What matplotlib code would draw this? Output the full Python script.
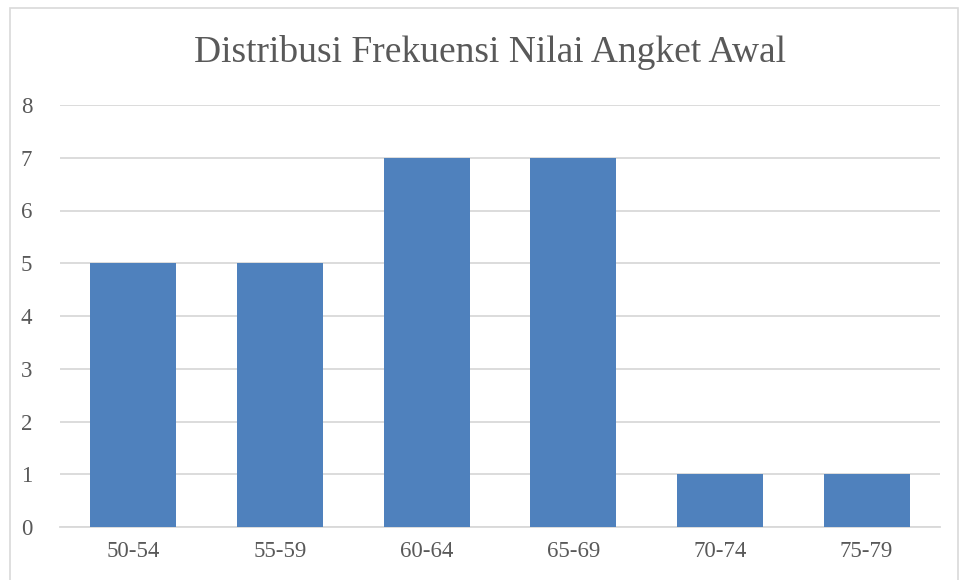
import matplotlib
matplotlib.use("Agg")
import matplotlib.pyplot as plt
from matplotlib.patches import Rectangle

categories = ["50-54", "55-59", "60-64", "65-69", "70-74", "75-79"]
values = [5, 5, 7, 7, 1, 1]
yticks = [0, 1, 2, 3, 4, 5, 6, 7, 8]
title = "Distribusi Frekuensi Nilai Angket Awal"

plt.rcParams['font.family'] = ['Liberation Serif', 'DejaVu Serif']
text_color = "#595959"

fig = plt.figure(figsize=(9.63, 5.8), dpi=100)
fig.patches.append(Rectangle((10/963, -0.05), 948/963, 1 - 8/580 + 0.05,
                             transform=fig.transFigure, fill=False,
                             edgecolor="#D9D9D9", linewidth=1.2))
ax = fig.add_axes([60/963, 1 - 527/580, 880/963, (527 - 105)/580])

x = range(len(categories))
ax.bar(x, values, width=0.585, color="#4F81BD", zorder=3)
ax.set_xlim(-0.5, len(categories) - 0.5)
ax.set_ylim(0, 8)
ax.set_yticks(yticks)
ax.set_xticks(list(x))
ax.set_xticklabels(categories)
ax.yaxis.grid(True, color="#D9D9D9", linewidth=1.3, zorder=0)
ax.set_axisbelow(True)
for s in ["top", "right", "left"]:
    ax.spines[s].set_visible(False)
ax.spines["bottom"].set_color("#D9D9D9")
ax.spines["bottom"].set_linewidth(1.3)
ax.tick_params(axis="both", length=0, labelcolor=text_color, labelsize=16.5)
ax.tick_params(axis="y", pad=20)
ax.tick_params(axis="x", pad=10)

fig.text(490/963, 1 - 53/580, title, ha="center", va="center",
         fontsize=27, color=text_color)

fig.savefig("out.png", dpi=100)
